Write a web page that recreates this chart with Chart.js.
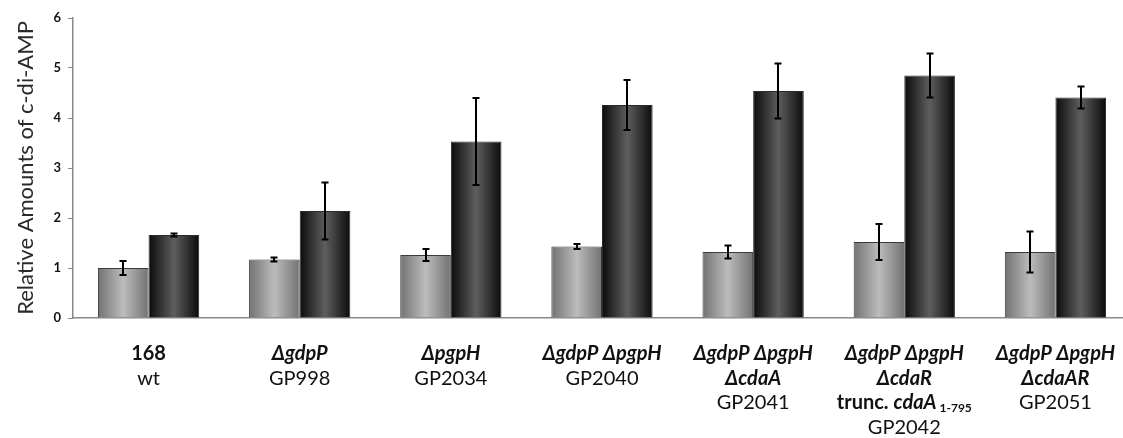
<!DOCTYPE html>
<html>
<head>
<meta charset="utf-8">
<script src="https://cdn.jsdelivr.net/npm/chart.js"></script>
<style>
  html, body { margin: 0; padding: 0; background: #fff; overflow: hidden; }
  canvas { display: block; }
</style>
</head>
<body>
<canvas id="cdiamp" width="1131" height="438"></canvas>
<script>
// DATA
const strains = ["168", "GP998", "GP2034", "GP2040", "GP2041", "GP2042", "GP2051"];
const lightValues = [1.00, 1.17, 1.26, 1.43, 1.32, 1.52, 1.32];
const lightErrors = [0.14, 0.04, 0.12, 0.05, 0.13, 0.36, 0.41];
const darkValues = [1.66, 2.14, 3.53, 4.26, 4.54, 4.85, 4.41];
const darkErrors = [0.03, 0.57, 0.87, 0.50, 0.55, 0.44, 0.22];
const yTicks = [0, 1, 2, 3, 4, 5, 6];

// label lines per strain: [style, text] segments
const labelLines = [
    [[["b", "168"]], [["n", "wt"]]],
    [[["bi", "\u0394gdpP"]], [["n", "GP998"]]],
    [[["bi", "\u0394pgpH"]], [["n", "GP2034"]]],
    [[["bi", "\u0394gdpP \u0394pgpH"]], [["n", "GP2040"]]],
    [[["bi", "\u0394gdpP \u0394pgpH"]], [["bi", "\u0394cdaA"]], [["n", "GP2041"]]],
    [[["bi", "\u0394gdpP \u0394pgpH"]], [["bi", "\u0394cdaR"]],
     [["b", "trunc. "], ["i", "cdaA"], ["sub", " 1-795"]], [["n", "GP2042"]]],
    [[["bi", "\u0394gdpP \u0394pgpH"]], [["bi", "\u0394cdaAR"]], [["n", "GP2051"]]]
];

const FONT = "Lato, 'Open Sans', sans-serif";
const CAT_PCT = 0.67;

function barGradient(context, dark) {
    const chart = context.chart;
    const xs = chart.scales.x;
    if (!xs || !chart.chartArea || context.dataIndex === undefined) {
        return dark ? "#222" : "#999";
    }
    const center = xs.getPixelForValue(context.dataIndex);
    const catW = xs.width / strains.length;
    const gw = catW * CAT_PCT;
    const left = dark ? center : center - gw / 2;
    const right = left + gw / 2;
    const g = chart.ctx.createLinearGradient(left, 0, right, 0);
    if (dark) {
        g.addColorStop(0, "#0b0b0b");
        g.addColorStop(0.5, "#5e5e5e");
        g.addColorStop(1, "#0b0b0b");
    } else {
        g.addColorStop(0, "#727272");
        g.addColorStop(0.5, "#bcbcbc");
        g.addColorStop(1, "#727272");
    }
    return g;
}

const errorBars = {
    id: "errorBars",
    afterDatasetsDraw(chart) {
        const ctx = chart.ctx;
        const ys = chart.scales.y;
        const errs = [lightErrors, darkErrors];
        ctx.save();
        ctx.strokeStyle = "#000";
        ctx.lineWidth = 2;
        chart.data.datasets.forEach((ds, d) => {
            const meta = chart.getDatasetMeta(d);
            meta.data.forEach((bar, i) => {
                const v = ds.data[i];
                const e = errs[d][i];
                const top = ys.getPixelForValue(v + e);
                const bot = ys.getPixelForValue(v - e);
                const x = Math.round(bar.x);
                ctx.beginPath();
                ctx.moveTo(x, top);
                ctx.lineTo(x, bot);
                ctx.moveTo(x - 3.5, top);
                ctx.lineTo(x + 3.5, top);
                ctx.moveTo(x - 3.5, bot);
                ctx.lineTo(x + 3.5, bot);
                ctx.stroke();
            });
        });
        ctx.restore();
    }
};

const strainLabels = {
    id: "strainLabels",
    afterDraw(chart) {
        const ctx = chart.ctx;
        const xs = chart.scales.x;
        const size = 20;
        const lineH = 24.5;
        const y0 = 354;
        const fontFor = (s) => {
            if (s === "b") return "bold " + size + "px " + FONT;
            if (s === "bi") return "italic bold " + size + "px " + FONT;
            if (s === "i") return "italic bold " + size + "px " + FONT;
            if (s === "sub") return "bold 12px " + FONT;
            return size + "px " + FONT;
        };
        ctx.save();
        ctx.fillStyle = "#111";
        ctx.textBaseline = "middle";
        ctx.textAlign = "left";
        labelLines.forEach((lines, i) => {
            const cx = xs.getPixelForValue(i);
            lines.forEach((segs, l) => {
                let w = 0;
                segs.forEach(([s, t]) => { ctx.font = fontFor(s); w += ctx.measureText(t).width; });
                let x = cx - w / 2;
                const y = y0 + l * lineH;
                segs.forEach(([s, t]) => {
                    ctx.font = fontFor(s);
                    ctx.fillText(t, x, s === "sub" ? y + 5 : y);
                    x += ctx.measureText(t).width;
                });
            });
        });
        ctx.restore();
    }
};

const ctx = document.getElementById("cdiamp").getContext("2d");

new Chart(ctx, {
    type: "bar",
    data: {
        labels: strains,
        datasets: [
            {
                data: lightValues,
                backgroundColor: (c) => barGradient(c, false),
                borderColor: "#3a3a3a",
                borderWidth: 1,
                borderSkipped: "bottom",
                barPercentage: 1,
                categoryPercentage: CAT_PCT
            },
            {
                data: darkValues,
                backgroundColor: (c) => barGradient(c, true),
                borderColor: "#2a2a2a",
                borderWidth: 1,
                borderSkipped: "bottom",
                barPercentage: 1,
                categoryPercentage: CAT_PCT
            }
        ]
    },
    options: {
        responsive: false,
        animation: false,
        layout: { padding: { top: 18, right: 0, left: 0, bottom: 0 } },
        plugins: {
            legend: { display: false },
            tooltip: { enabled: false }
        },
        scales: {
            x: {
                grid: { display: false },
                border: { display: true, color: "#8a8a8a", width: 1.5 },
                ticks: { display: false },
                afterFit(scale) { scale.height = 120; }
            },
            y: {
                min: 0,
                max: 6,
                afterBuildTicks(scale) { scale.ticks = yTicks.map(v => ({ value: v })); },
                afterFit(scale) { scale.width = 73; },
                grid: { display: true, drawOnChartArea: false, drawTicks: true, tickLength: 5, color: "#8a8a8a" },
                border: { display: true, color: "#8a8a8a", width: 1.5 },
                ticks: {
                    padding: 7,
                    color: "#111",
                    font: { family: FONT, size: 13, weight: "bold" }
                },
                title: {
                    display: true,
                    text: "Relative Amounts of c-di-AMP",
                    color: "#2a2a2a",
                    font: { family: FONT, size: 22 },
                    padding: { top: 13, bottom: 0 }
                }
            }
        }
    },
    plugins: [errorBars, strainLabels]
});
</script>
</body>
</html>
